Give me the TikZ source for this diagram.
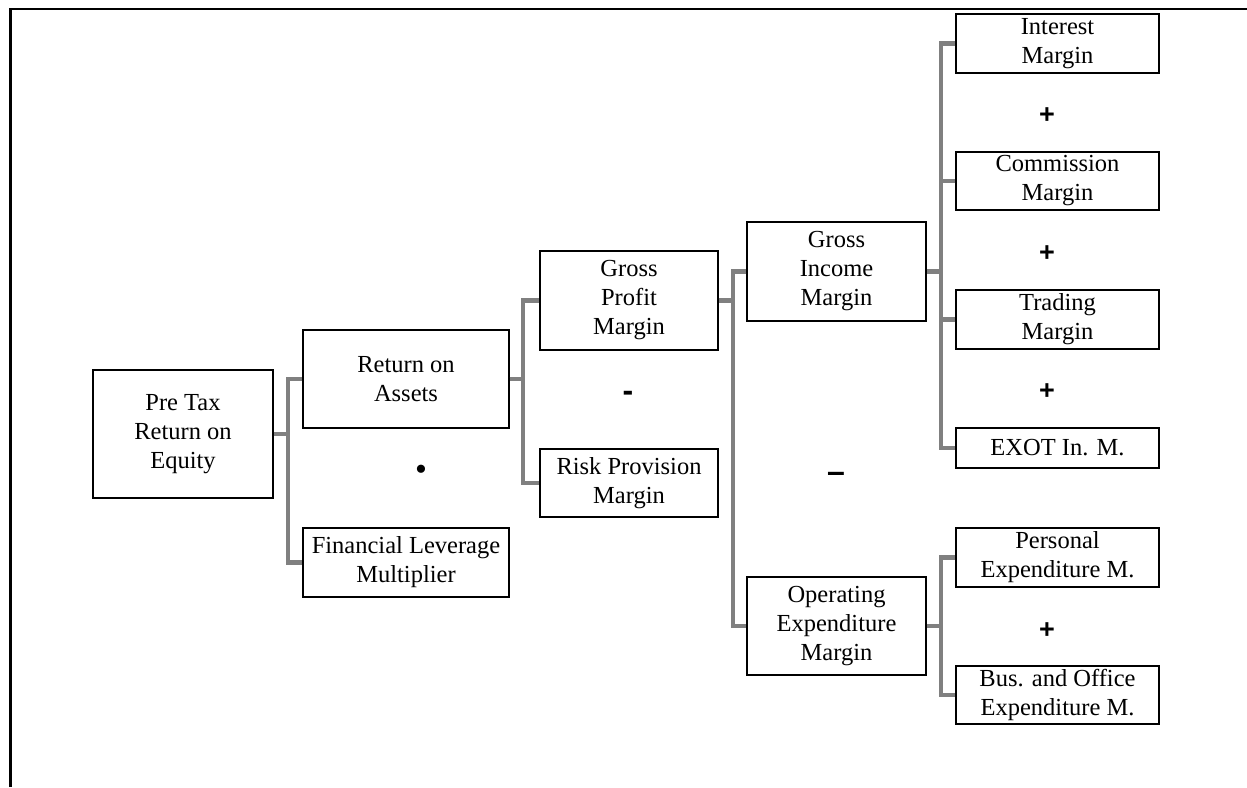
\documentclass[tikz,border=0pt]{standalone}
\usepackage{fontspec}
\setmainfont{Liberation Serif}
\newfontfamily\signfont{Liberation Sans}
\begin{document}
\begin{tikzpicture}[x=1pt,y=-1pt,
  box/.style={draw=black, line width=1.3pt, fill=white, align=center, inner sep=0pt,
    font=\fontsize{24.5}{29}\selectfont},
  conn/.style={draw=gray, line width=4.6pt},
  sign/.style={font=\signfont\bfseries\fontsize{27}{27}\selectfont, inner sep=0pt}]
\useasboundingbox (0,0) rectangle (1247,787);
\fill[white] (0,0) rectangle (1247,787);
\draw[line width=2.6pt] (10.7,787) -- (10.7,9) -- (1247,9);

\coordinate (b1) at (288,0);
\coordinate (b2) at (523,0);
\coordinate (b3) at (733,0);
\coordinate (b4) at (941,0);

\node[box, minimum width=180pt, minimum height=128pt] (roe) at (183,434) {Pre Tax\\Return on\\Equity};
\node[box, minimum width=206pt, minimum height=98pt] (roa) at (406,379) {Return on\\Assets};
\node[box, minimum width=206pt, minimum height=69pt] (flm) at (406,562.5) {Financial Leverage\\Multiplier};
\node[box, minimum width=178pt, minimum height=99pt] (gpm) at (629,300.5) {Gross\\Profit\\Margin};
\node[box, minimum width=178pt, minimum height=68pt] (rpm) at (629,483) {Risk Provision\\Margin};
\node[box, minimum width=179pt, minimum height=99pt] (gim) at (836.5,271.5) {Gross\\Income\\Margin};
\node[box, minimum width=179pt, minimum height=98pt] (oem) at (836.5,626) {Operating\\Expenditure\\Margin};
\node[box, minimum width=203pt, minimum height=59pt] (im) at (1057.5,43.5) {Interest\\Margin};
\node[box, minimum width=203pt, minimum height=58pt] (cm) at (1057.5,181) {Commission\\Margin};
\node[box, minimum width=203pt, minimum height=59pt] (tm) at (1057.5,319.5) {Trading\\Margin};
\node[box, minimum width=203pt, minimum height=40pt] (ex) at (1057.5,448) {EXOT In. M.};
\node[box, minimum width=203pt, minimum height=59pt] (pem) at (1057.5,557.5) {Personal\\Expenditure M.};
\node[box, minimum width=203pt, minimum height=58pt] (bem) at (1057.5,695) {Bus. and Office\\Expenditure M.};

\draw[conn] (roe.east) -- (roe.east -| b1);
\draw[conn] (roa.west) -- (roa.west -| b1) -- (flm.west -| b1) -- (flm.west);

\draw[conn] (roa.east) -- (roa.east -| b2);
\draw[conn] (gpm.west) -- (gpm.west -| b2) -- (rpm.west -| b2) -- (rpm.west);

\draw[conn] (gpm.east) -- (gpm.east -| b3);
\draw[conn] (gim.west) -- (gim.west -| b3) -- (oem.west -| b3) -- (oem.west);

\draw[conn] (gim.east) -- (gim.east -| b4);
\draw[conn] (im.west) -- (im.west -| b4) -- (ex.west -| b4) -- (ex.west);
\draw[conn] (cm.west) -- (cm.west -| b4);
\draw[conn] (tm.west) -- (tm.west -| b4);

\draw[conn] (oem.east) -- (oem.east -| b4);
\draw[conn] (pem.west) -- (pem.west -| b4) -- (bem.west -| b4) -- (bem.west);

\node[sign] (p1) at (1047,115.5) {+};
\node[sign] (p2) at (1047,253.5) {+};
\node[sign] (p3) at (1047,392) {+};
\node[sign] (p4) at (1047,631) {+};
\node[sign, font=\signfont\bfseries\fontsize{32}{32}\selectfont] (m1) at (628,396) {-};
\node[sign, font=\signfont\bfseries\fontsize{32}{32}\selectfont] (m2) at (836,477) {–};
\node[font=\fontsize{34}{34}\selectfont, inner sep=0pt] (dot) at (421,473) {\textbullet};
\end{tikzpicture}
\end{document}
